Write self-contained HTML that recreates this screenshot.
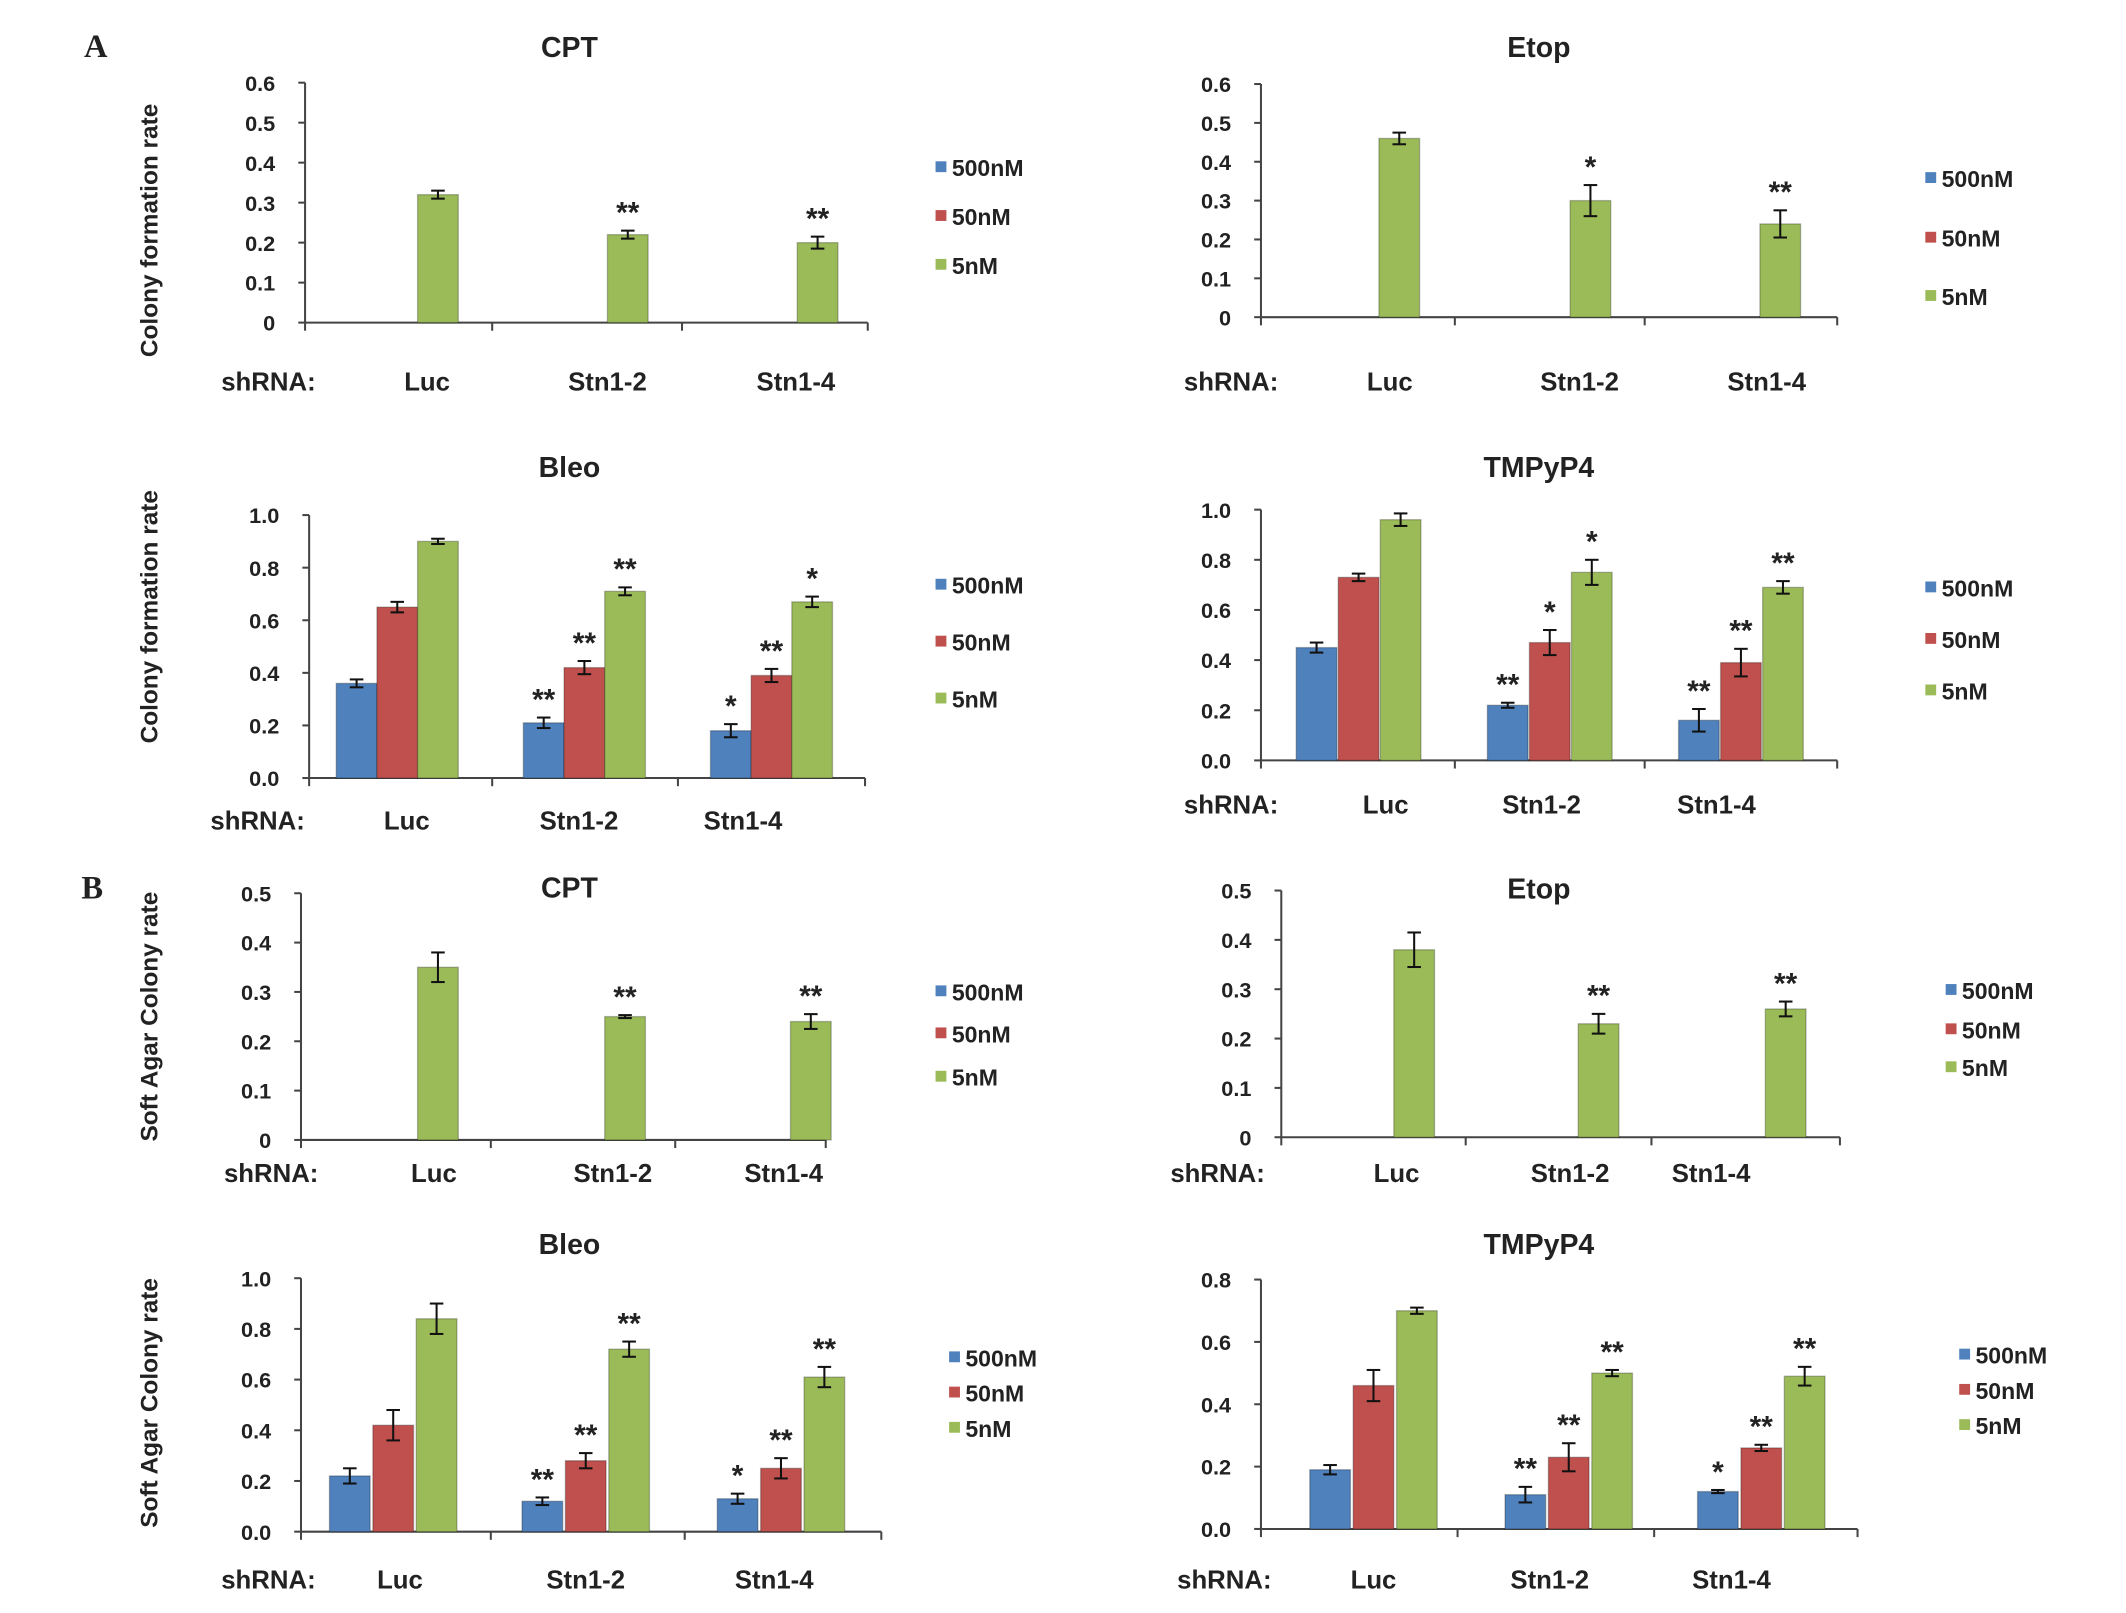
<!DOCTYPE html>
<html><head><meta charset="utf-8">
<style>
html,body{margin:0;padding:0;background:#fff;}
svg{display:block;}
text{font-family:"Liberation Sans",Arial,sans-serif;font-weight:bold;fill:#222;}
</style></head>
<body>
<svg id="fig" width="2126" height="1613" viewBox="0 0 1568 1190" preserveAspectRatio="none" xmlns="http://www.w3.org/2000/svg">
<text x="62" y="42" style="font-family:'Liberation Serif',serif;font-size:24px">A</text>
<text x="60" y="663" style="font-family:'Liberation Serif',serif;font-size:24px">B</text>
</svg>
<script>
// ---- data ----
const categories = ["Luc", "Stn1-2", "Stn1-4"];
const seriesNames = ["500nM", "50nM", "5nM"];
const seriesColors = ["#4f81bd", "#c0504d", "#9bbb59"];

// A CPT
const aCptValues = [null, null, [0.32, 0.22, 0.20]];
const aCptErrors = [null, null, [0.01, 0.01, 0.015]];
const aCptStars = [null, null, ["", "**", "**"]];
const aCptTicks = ["0", "0.1", "0.2", "0.3", "0.4", "0.5", "0.6"];
// A Etop
const aEtopValues = [null, null, [0.46, 0.30, 0.24]];
const aEtopErrors = [null, null, [0.015, 0.04, 0.035]];
const aEtopStars = [null, null, ["", "*", "**"]];
const aEtopTicks = ["0", "0.1", "0.2", "0.3", "0.4", "0.5", "0.6"];
// A Bleo
const aBleoValues = [[0.36, 0.21, 0.18], [0.65, 0.42, 0.39], [0.90, 0.71, 0.67]];
const aBleoErrors = [[0.015, 0.02, 0.025], [0.02, 0.025, 0.025], [0.01, 0.015, 0.02]];
const aBleoStars = [["", "**", "*"], ["", "**", "**"], ["", "**", "*"]];
const aBleoTicks = ["0.0", "0.2", "0.4", "0.6", "0.8", "1.0"];
// A TMPyP4
const aTmpValues = [[0.45, 0.22, 0.16], [0.73, 0.47, 0.39], [0.96, 0.75, 0.69]];
const aTmpErrors = [[0.02, 0.01, 0.045], [0.015, 0.05, 0.055], [0.025, 0.05, 0.025]];
const aTmpStars = [["", "**", "**"], ["", "*", "**"], ["", "*", "**"]];
const aTmpTicks = ["0.0", "0.2", "0.4", "0.6", "0.8", "1.0"];
// B CPT
const bCptValues = [null, null, [0.35, 0.25, 0.24]];
const bCptErrors = [null, null, [0.03, 0.003, 0.015]];
const bCptStars = [null, null, ["", "**", "**"]];
const bCptTicks = ["0", "0.1", "0.2", "0.3", "0.4", "0.5"];
// B Etop
const bEtopValues = [null, null, [0.38, 0.23, 0.26]];
const bEtopErrors = [null, null, [0.035, 0.02, 0.015]];
const bEtopStars = [null, null, ["", "**", "**"]];
const bEtopTicks = ["0", "0.1", "0.2", "0.3", "0.4", "0.5"];
// B Bleo
const bBleoValues = [[0.22, 0.12, 0.13], [0.42, 0.28, 0.25], [0.84, 0.72, 0.61]];
const bBleoErrors = [[0.03, 0.015, 0.02], [0.06, 0.03, 0.04], [0.06, 0.03, 0.04]];
const bBleoStars = [["", "**", "*"], ["", "**", "**"], ["", "**", "**"]];
const bBleoTicks = ["0.0", "0.2", "0.4", "0.6", "0.8", "1.0"];
// B TMPyP4
const bTmpValues = [[0.19, 0.11, 0.12], [0.46, 0.23, 0.26], [0.70, 0.50, 0.49]];
const bTmpErrors = [[0.015, 0.025, 0.005], [0.05, 0.045, 0.01], [0.01, 0.01, 0.03]];
const bTmpStars = [["", "**", "*"], ["", "**", "**"], ["", "**", "**"]];
const bTmpTicks = ["0.0", "0.2", "0.4", "0.6", "0.8"];

// ---- layout ----
const NS = "http://www.w3.org/2000/svg";
const svg = document.getElementById("fig");
function mk(tag, attrs, parent) {
  const e = document.createElementNS(NS, tag);
  for (const k in attrs) e.setAttribute(k, attrs[k]);
  (parent || svg).appendChild(e);
  return e;
}
function txt(x, y, s, size, anchor, parent) {
  const t = mk("text", {x: x, y: y, "font-size": size, "text-anchor": anchor || "middle"}, parent);
  t.textContent = s;
  return t;
}

const panels = [
  {id:"a-cpt", title:"CPT", tx:420, ty:42, x0:225, x1:640, y0:238, yTop:61, seps:[225,363,503,640], centers:[294,434,574], spacing:29,
   values:aCptValues, errors:aCptErrors, stars:aCptStars, ticks:aCptTicks, max:0.6,
   legX:690, legY:[124,160,196], labY:281, labX:[198,315,448,587], ylab:"Colony formation rate", ylabY:170},
  {id:"a-etop", title:"Etop", tx:1135, ty:42, x0:930, x1:1355, y0:234, yTop:62, seps:[930,1073,1213,1355], centers:[1002,1143,1283], spacing:30,
   values:aEtopValues, errors:aEtopErrors, stars:aEtopStars, ticks:aEtopTicks, max:0.6,
   legX:1420, legY:[132,176,219], labY:281, labX:[908,1025,1165,1303]},
  {id:"a-bleo", title:"Bleo", tx:420, ty:352, x0:228, x1:638, y0:574, yTop:380, seps:[228,363,500,638], centers:[293,431,569], spacing:30,
   values:aBleoValues, errors:aBleoErrors, stars:aBleoStars, ticks:aBleoTicks, max:1.0,
   legX:690, legY:[432,474,516], labY:605, labX:[190,300,427,548], ylab:"Colony formation rate", ylabY:455},
  {id:"a-tmpyp4", title:"TMPyP4", tx:1135, ty:352, x0:930, x1:1355, y0:561, yTop:376, seps:[930,1073,1213,1355], centers:[1002,1143,1284], spacing:31,
   values:aTmpValues, errors:aTmpErrors, stars:aTmpStars, ticks:aTmpTicks, max:1.0,
   legX:1420, legY:[434,472,510], labY:593, labX:[908,1022,1137,1266]},
  {id:"b-cpt", title:"CPT", tx:420, ty:662, x0:222, x1:609, y0:841, yTop:659, seps:[222,362,498,609], centers:[293,431,568], spacing:30,
   values:bCptValues, errors:bCptErrors, stars:bCptStars, ticks:bCptTicks, max:0.5,
   legX:690, legY:[732,763,795], labY:865, labX:[200,320,452,578], ylab:"Soft Agar Colony rate", ylabY:750},
  {id:"b-etop", title:"Etop", tx:1135, ty:663, x0:945, x1:1357, y0:839, yTop:657, seps:[945,1081,1218,1357], centers:[1013,1149,1287], spacing:30,
   values:bEtopValues, errors:bEtopErrors, stars:bEtopStars, ticks:bEtopTicks, max:0.5,
   legX:1435, legY:[731,760,788], labY:865, labX:[898,1030,1158,1262]},
  {id:"b-bleo", title:"Bleo", tx:420, ty:925, x0:222, x1:650, y0:1130, yTop:943, seps:[222,362,505,650], centers:[290,432,576], spacing:32,
   values:bBleoValues, errors:bBleoErrors, stars:bBleoStars, ticks:bBleoTicks, max:1.0,
   legX:700, legY:[1002,1028,1054], labY:1165, labX:[198,295,432,571], ylab:"Soft Agar Colony rate", ylabY:1035},
  {id:"b-tmpyp4", title:"TMPyP4", tx:1135, ty:925, x0:930, x1:1370, y0:1128, yTop:944, seps:[930,1075,1220,1370], centers:[1013,1157,1299], spacing:32,
   values:bTmpValues, errors:bTmpErrors, stars:bTmpStars, ticks:bTmpTicks, max:0.8,
   legX:1445, legY:[1000,1026,1052], labY:1165, labX:[903,1013,1143,1277]}
];

panels.forEach(p => {
  const g = mk("g", {});
  
  
  const yScale = v => p.y0 - (v / p.max) * (p.y0 - p.yTop);
  const title = txt(p.tx, p.ty, p.title, 21, "middle", g);
  
  
  const ya = mk("line", {x1:p.x0, y1:p.yTop, x2:p.x0, y2:p.y0, stroke:"#444", "stroke-width":1.5}, g);
  
  
  p.ticks.forEach((t, i) => {
    const v = p.max * i / (p.ticks.length - 1);
    const y = yScale(v);
    mk("line", {x1:p.x0 - 5, y1:y, x2:p.x0, y2:y, stroke:"#444", "stroke-width":1.5}, g);
    const tl = txt(p.x0 - 22, y + 6, t, 16, "end", g);
    
    
  });
  const xa = mk("line", {x1:p.x0, y1:p.y0, x2:p.x1, y2:p.y0, stroke:"#444", "stroke-width":1.5}, g);
  
  
  p.seps.forEach(x => mk("line", {x1:x, y1:p.y0, x2:x, y2:p.y0 + 6, stroke:"#444", "stroke-width":1.5}, g));
  const bw = 30;
  p.values.forEach((ser, s) => {
    if (!ser) return;
    ser.forEach((v, i) => {
      const cx = p.centers[i] + (s - 1) * p.spacing;
      const y = yScale(v);
      const r = mk("rect", {x:cx - bw/2, y:y, width:bw, height:p.y0 - y, fill:seriesColors[s], stroke:"rgba(0,0,0,0.25)", "stroke-width":1}, g);
      
      
      const e = p.errors[s][i];
      const yt = yScale(v + e), yb = yScale(v - e);
      const eg = mk("g", {stroke:"#111", "stroke-width":1.5}, g);
      
      
      mk("line", {x1:cx, y1:yt, x2:cx, y2:yb}, eg);
      mk("line", {x1:cx - 5, y1:yt, x2:cx + 5, y2:yt}, eg);
      mk("line", {x1:cx - 5, y1:yb, x2:cx + 5, y2:yb}, eg);
      const st = p.stars[s][i];
      if (st) {
        const sm = txt(cx, yt - 6, st, 22, "middle", g);
        
        
      }
    });
  });
  const sh = txt(p.labX[0], p.labY + 7, "shRNA:", 19, "middle", g);
  
  
  categories.forEach((c, i) => {
    const cl = txt(p.labX[i + 1], p.labY + 7, c, 19, "middle", g);
    
    
  });
  seriesNames.forEach((n, s) => {
    const lg = mk("g", {}, g);
    
    
    mk("rect", {x:p.legX, y:p.legY[s] - 5, width:8, height:8, fill:seriesColors[s]}, lg);
    txt(p.legX + 12, p.legY[s] + 6, n, 17, "start", lg);
  });
  if (p.ylab) {
    const yl = txt(0, 0, p.ylab, 18, "middle", g);
    yl.setAttribute("transform", "translate(116," + p.ylabY + ") rotate(-90)");
    
    
  }
});
</script>
</body></html>
